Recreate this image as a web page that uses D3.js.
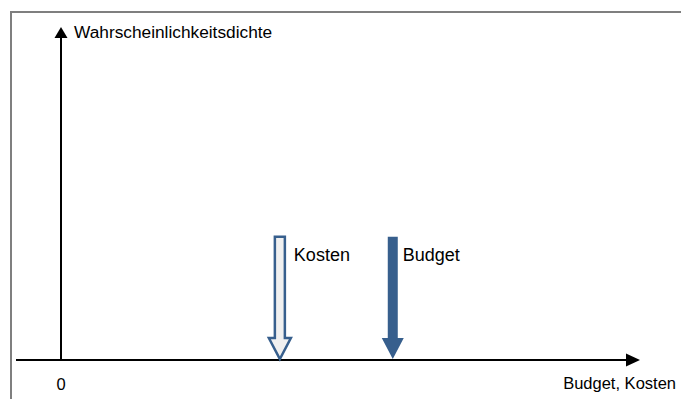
<!DOCTYPE html>
<html>
<head>
<meta charset="utf-8">
<script src="https://cdn.jsdelivr.net/npm/d3@7"></script>
<style>
  html, body { margin: 0; padding: 0; background: #fff; }
  svg text { font-family: "Liberation Sans", Arial, sans-serif; font-size: 17px; fill: #000; }
</style>
</head>
<body>
<svg id="chart" width="681" height="399"></svg>
<script>

// markers on the x axis (arbitrary units)
var markers = [ 'Kosten', 'Budget' ];
var markerX = [ 3.78, 5.73 ];
var markerTop = [ 0.37, 0.37 ];
var markerFilled = [ false, true ];

var xLabel = 'Budget, Kosten';
var yLabel = 'Wahrscheinlichkeitsdichte';
var originLabel = '0';

var svg = d3.select('#chart');

var x = d3.scaleLinear().domain([ 0, 10 ]).range([ 61, 640 ]);
var y = d3.scaleLinear().domain([ 0, 1 ]).range([ 360, 27 ]);

// frame
svg.append('path')
    .attr('d', 'M11,399 L11,12 L681,12')
    .attr('fill', 'none')
    .attr('stroke', '#7f7f7f')
    .attr('stroke-width', 2);

// x axis
svg.append('line')
    .attr('x1', 16).attr('y1', y(0))
    .attr('x2', x(10) - 14).attr('y2', y(0))
    .attr('stroke', '#000').attr('stroke-width', 2);

svg.append('path')
    .attr('d', 'M' + x(10) + ',' + y(0) + ' l-14,-6.5 l0,13 z')
    .attr('fill', '#000');

// y axis
svg.append('line')
    .attr('x1', x(0)).attr('y1', y(0))
    .attr('x2', x(0)).attr('y2', y(1) + 10)
    .attr('stroke', '#000').attr('stroke-width', 2);

svg.append('path')
    .attr('d', 'M' + x(0) + ',' + y(1) + ' l-6.5,11 l13,0 z')
    .attr('fill', '#000');

// labels
svg.append('text').attr('x', 74).attr('y', 38).style('font-size', '17.3px').text(yLabel);
svg.append('text').attr('x', 676).attr('y', 389).attr('text-anchor', 'end').style('font-size', '16.5px').text(xLabel);
svg.append('text').attr('x', x(0)).attr('y', 390).attr('text-anchor', 'middle').style('font-size', '16.5px').text(originLabel);

// block arrows
var shaftW = 10, headW = 22, headH = 21;

function arrowPath ( cx, top, bottom ) {

    var h = shaftW / 2, hh = headW / 2, hy = bottom - headH;
    return 'M' + (cx - h) + ',' + top +
        ' L' + (cx + h) + ',' + top +
        ' L' + (cx + h) + ',' + hy +
        ' L' + (cx + hh) + ',' + hy +
        ' L' + cx + ',' + bottom +
        ' L' + (cx - hh) + ',' + hy +
        ' L' + (cx - h) + ',' + hy + ' Z';

}

var g = svg.selectAll('.marker')
    .data( markers.map( function ( d, i ) {
        return { name: d, x: markerX[i], top: markerTop[i], filled: markerFilled[i] };
    }) )
    .enter().append('g')
    .attr('class', 'marker');

g.append('path')
    .attr('d', function ( d ) { return arrowPath( x(d.x), y(d.top), y(0) - 1 ); })
    .attr('fill', function ( d ) { return d.filled ? '#375f8d' : '#f0f0f0'; })
    .attr('stroke', '#375f8d')
    .attr('stroke-width', function ( d ) { return d.filled ? 0 : 2.5; })
    .attr('stroke-linejoin', 'miter');

g.append('text')
    .attr('x', function ( d ) { return x(d.x) + (d.filled ? 10 : 14); })
    .attr('y', 261)
    .style('font-size', '18px')
    .text( function ( d ) { return d.name; });

</script>
</body>
</html>
